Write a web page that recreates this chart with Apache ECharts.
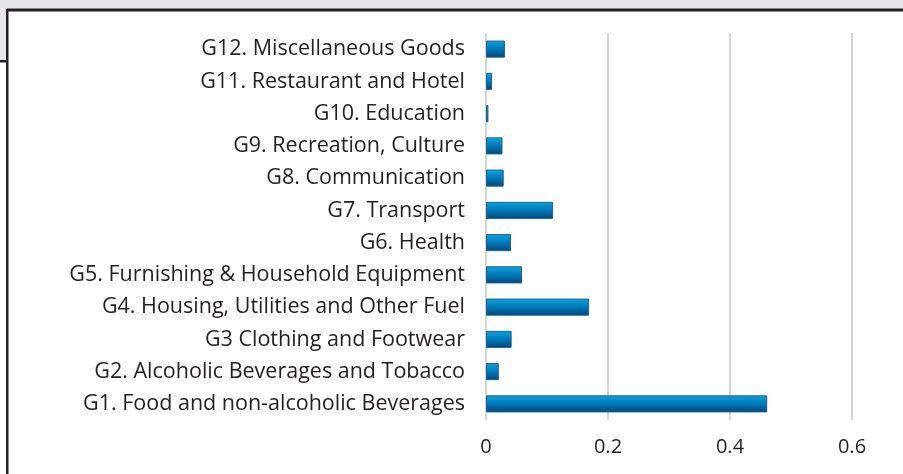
<!DOCTYPE html>
<html>
<head>
<meta charset="utf-8">
<script src="https://cdn.jsdelivr.net/npm/echarts@6/dist/echarts.min.js"></script>
<style>
  html, body { margin: 0; padding: 0; background: #fff; }
  #chart { width: 903px; height: 474px; }
</style>
</head>
<body>
<div id="chart"></div>
<script>
// categories, bottom to top (category axis starts at the bottom)
const categories = [
  'G1. Food and non-alcoholic Beverages',
  'G2. Alcoholic Beverages and Tobacco',
  'G3 Clothing and Footwear',
  'G4. Housing, Utilities and Other Fuel',
  'G5. Furnishing & Household Equipment',
  'G6. Health',
  'G7. Transport',
  'G8. Communication',
  'G9. Recreation, Culture',
  'G10. Education',
  'G11. Restaurant and Hotel',
  'G12. Miscellaneous Goods'
];
const shares = [0.461, 0.021, 0.042, 0.169, 0.059, 0.041, 0.110, 0.029, 0.027, 0.004, 0.010, 0.031];

const chart = echarts.init(document.getElementById('chart'));

const option = {
  animation: false,
  backgroundColor: '#ffffff',
  grid: { left: 486, right: 51, top: 33, bottom: 54 },
  xAxis: {
    type: 'value',
    min: 0,
    max: 0.6,
    interval: 0.2,
    axisLine: { show: false },
    axisTick: { show: false },
    axisLabel: {
      color: '#231f20',
      fontFamily: 'Open Sans',
      fontSize: 20,
      margin: 17
    },
    splitLine: { lineStyle: { color: '#c6c6c6', width: 1.5 } }
  },
  yAxis: {
    type: 'category',
    data: categories,
    axisLine: { show: false },
    axisTick: { show: false },
    axisLabel: {
      color: '#231f20',
      fontFamily: 'Open Sans',
      fontSize: 21.5,
      margin: 21
    }
  },
  series: [{
    type: 'bar',
    data: shares,
    barWidth: '53%',
    itemStyle: {
      color: new echarts.graphic.LinearGradient(0, 0, 0, 1, [
        { offset: 0, color: '#0ba3e0' },
        { offset: 0.5, color: '#0079b8' },
        { offset: 1, color: '#00457a' }
      ]),
      borderColor: '#1f5f8f',
      borderWidth: 1
    }
  }],
  graphic: [
    // grey strip at top and left, plus dark frame lines
    { type: 'rect', shape: { x: 0, y: 0, width: 903, height: 9 }, style: { fill: '#e6e7e8' }, z: 100 },
    { type: 'rect', shape: { x: 0, y: 0, width: 7, height: 61 }, style: { fill: '#e6e7e8' }, z: 100 },
    { type: 'rect', shape: { x: 7, y: 8, width: 896, height: 1 }, style: { fill: '#8a8a8a' }, z: 100 },
    { type: 'rect', shape: { x: 6, y: 9, width: 897, height: 2.5 }, style: { fill: '#231f20' }, z: 101 },
    { type: 'rect', shape: { x: 6, y: 9, width: 2.5, height: 465 }, style: { fill: '#231f20' }, z: 101 },
    { type: 'rect', shape: { x: 0, y: 60, width: 7, height: 2.5 }, style: { fill: '#231f20' }, z: 101 }
  ]
};

chart.setOption(option);
</script>
</body>
</html>
